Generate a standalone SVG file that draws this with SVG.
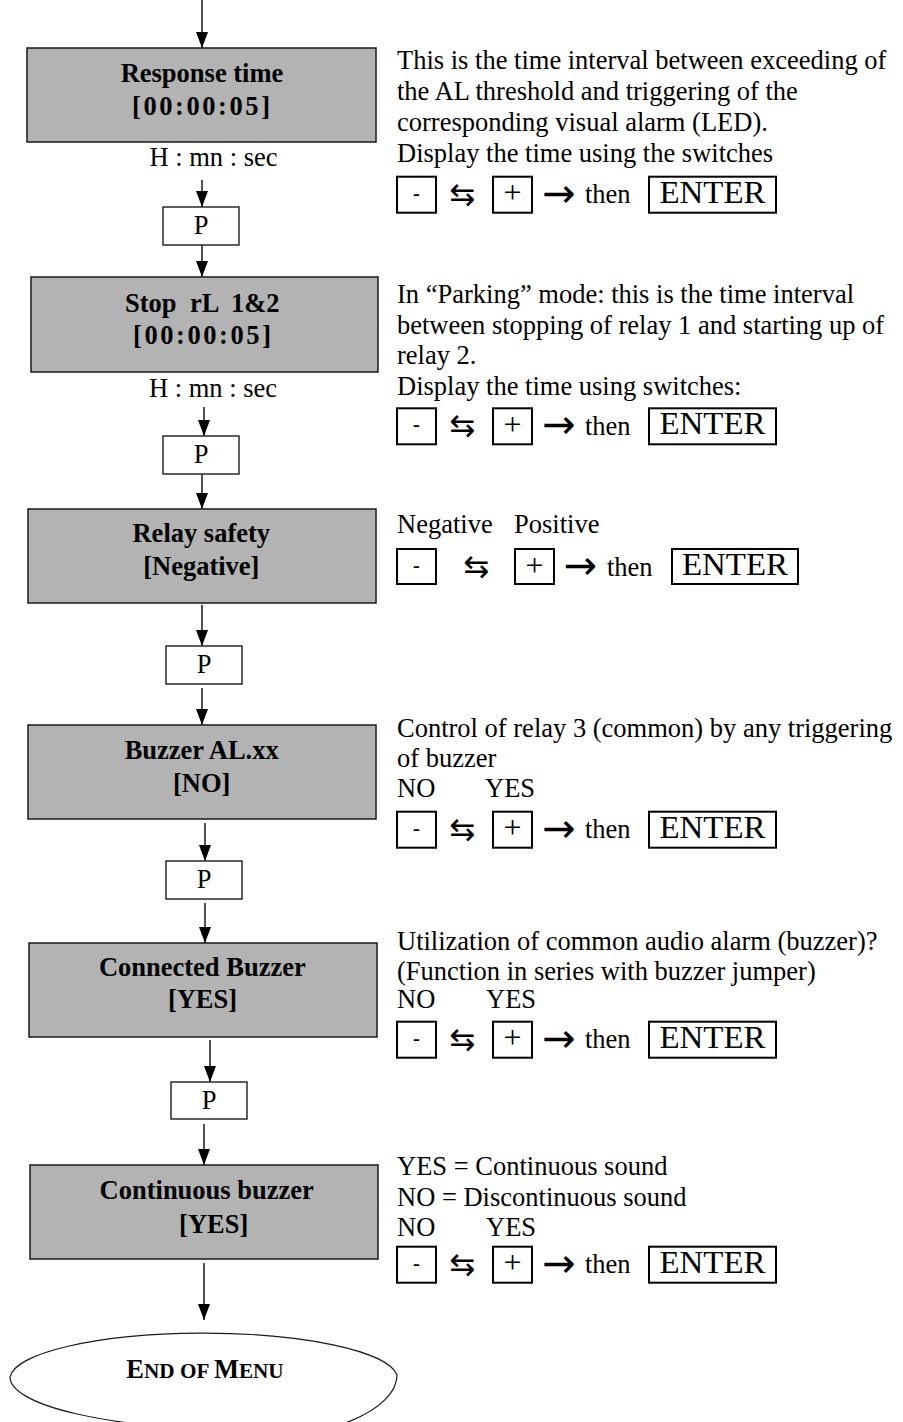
<svg xmlns="http://www.w3.org/2000/svg" xmlns:xlink="http://www.w3.org/1999/xlink" width="903" height="1422" viewBox="0 0 903 1422">
  <style>
    .t { font-family: "Liberation Serif", "Times New Roman", serif; font-size: 26.5px; fill: #000; }
    .b { font-weight: bold; }
    .mid { text-anchor: middle; }
    .menu { fill: #b3b3b3; stroke: #1a1a1a; stroke-width: 1.5; }
    .pbox { fill: #fff; stroke: #2a2a2a; stroke-width: 1.5; }
    .key { fill: #fff; stroke: #000; stroke-width: 2; }
    .conn line { stroke: #1a1a1a; stroke-width: 1.5; marker-end: url(#ah); }
    .sym { font-family: "DejaVu Sans", sans-serif; fill: #000; text-anchor: middle; }
    .minus { font-family: "Liberation Sans", Arial, sans-serif; font-size: 22px; text-anchor: middle; }
    .plus { font-family: "Liberation Serif", serif; font-size: 32px; text-anchor: middle; }
    .enter { font-family: "Liberation Serif", serif; font-size: 31px; text-anchor: middle; }
  </style>
  <defs>
    <marker id="ah" viewBox="0 0 16 12" refX="16" refY="6" markerWidth="16" markerHeight="12" markerUnits="userSpaceOnUse" orient="auto">
      <path d="M0,0 L16,6 L0,12 z" fill="#000"/>
    </marker>
    <!-- key sequence row: [-] ⇆ [+] → then [ENTER], origin at the top of the key boxes -->
    <g id="keyrow">
      <rect class="key" x="397" y="0" width="39" height="36"/>
      <text class="minus" x="416.5" y="24">-</text>
      <text class="sym" x="462.5" y="28" font-size="31">⇆</text>
      <rect class="key" x="493" y="0" width="39" height="36"/>
      <text class="plus" x="512.5" y="26.5">+</text>
      <text class="sym" x="559" y="30" font-size="40">→</text>
      <text class="t" x="585" y="26.5" font-size="28">then</text>
      <rect class="key" x="649" y="0" width="127" height="36"/>
      <text class="enter" x="712.5" y="26" textLength="106" lengthAdjust="spacingAndGlyphs">ENTER</text>
    </g>
  </defs>

  <rect width="903" height="1422" fill="#fff"/>

  <!-- connectors -->
  <g id="connectors" class="conn">
    <line x1="202" y1="0" x2="202" y2="48"/>
    <line x1="202" y1="180" x2="202" y2="207"/>
    <line x1="202" y1="245" x2="202" y2="277"/>
    <line x1="204" y1="407" x2="204" y2="436"/>
    <line x1="202" y1="474" x2="202" y2="509"/>
    <line x1="202" y1="605" x2="202" y2="646"/>
    <line x1="202" y1="688" x2="202" y2="725"/>
    <line x1="205" y1="823" x2="205" y2="861"/>
    <line x1="205" y1="903" x2="205" y2="943"/>
    <line x1="210" y1="1040" x2="210" y2="1082"/>
    <line x1="204" y1="1124" x2="204" y2="1165"/>
    <line x1="204" y1="1263" x2="204" y2="1320"/>
  </g>

  <!-- menu steps -->
  <g id="response-time">
    <rect class="menu" x="27" y="48" width="349" height="94"/>
    <text class="t b mid" x="202" y="82">Response time</text>
    <text class="t b mid" x="201" y="115" textLength="138" lengthAdjust="spacing">[00:00:05]</text>
    <text class="t mid" x="213.5" y="165.7">H : mn : sec</text>
  </g>
  <g id="p1">
    <rect class="pbox" x="163" y="207" width="76" height="38"/>
    <text class="t mid" x="201" y="234">P</text>
  </g>

  <g id="stop-rl">
    <rect class="menu" x="31" y="277" width="347" height="95"/>
    <text class="t b" y="311.5"><tspan x="125">Stop</tspan><tspan x="190">rL</tspan><tspan x="231">1&amp;2</tspan></text>
    <text class="t b mid" x="202" y="344" textLength="138" lengthAdjust="spacing">[00:00:05]</text>
    <text class="t mid" x="213" y="396.7">H : mn : sec</text>
  </g>
  <g id="p2">
    <rect class="pbox" x="163" y="436" width="76" height="38"/>
    <text class="t mid" x="201" y="463">P</text>
  </g>

  <g id="relay-safety">
    <rect class="menu" x="28" y="509" width="348" height="94"/>
    <text class="t b mid" x="201.3" y="542">Relay safety</text>
    <text class="t b mid" x="201.3" y="575">[Negative]</text>
  </g>
  <g id="p3">
    <rect class="pbox" x="166" y="646" width="76" height="38"/>
    <text class="t mid" x="204" y="673">P</text>
  </g>

  <g id="buzzer-al">
    <rect class="menu" x="28" y="725" width="348" height="94"/>
    <text class="t b mid" x="201.7" y="759">Buzzer AL.xx</text>
    <text class="t b mid" x="201.7" y="792">[NO]</text>
  </g>
  <g id="p4">
    <rect class="pbox" x="166" y="861" width="76" height="38"/>
    <text class="t mid" x="204" y="888">P</text>
  </g>

  <g id="connected-buzzer">
    <rect class="menu" x="29" y="943" width="348" height="94"/>
    <text class="t b mid" x="202.3" y="975.5">Connected Buzzer</text>
    <text class="t b mid" x="202.5" y="1008">[YES]</text>
  </g>
  <g id="p5">
    <rect class="pbox" x="171" y="1082" width="76" height="37"/>
    <text class="t mid" x="209" y="1109">P</text>
  </g>

  <g id="continuous-buzzer">
    <rect class="menu" x="30" y="1165" width="348" height="94"/>
    <text class="t b mid" x="206.7" y="1199">Continuous buzzer</text>
    <text class="t b mid" x="213.7" y="1233">[YES]</text>
  </g>

  <g id="end-of-menu">
    <path d="M10,1377 A194,46 0 0 1 397,1375 A162,65.6 0 0 1 235,1440.6 L235,1429 A225,52 0 0 1 10,1377 Z" fill="#fff" stroke="#1a1a1a" stroke-width="1.2"/>
    <text class="t b mid" x="205" y="1378">E<tspan font-size="21.2">ND OF </tspan>M<tspan font-size="21.2">ENU</tspan></text>
  </g>

  <!-- explanations beside each step -->
  <g id="note-response-time" class="t">
    <text x="397" y="69.3">This is the time interval between exceeding of</text>
    <text x="397" y="100">the AL threshold and triggering of the</text>
    <text x="397" y="130.7">corresponding visual alarm (LED).</text>
    <text x="397" y="161.5">Display the time using the switches</text>
    <use xlink:href="#keyrow" href="#keyrow" y="176.7"/>
  </g>

  <g id="note-stop-rl" class="t">
    <text x="397" y="303.3">In “Parking” mode: this is the time interval</text>
    <text x="397" y="334">between stopping of relay 1 and starting up of</text>
    <text x="397" y="364.3">relay 2.</text>
    <text x="397" y="395">Display the time using switches:</text>
    <use xlink:href="#keyrow" href="#keyrow" y="408.3"/>
  </g>

  <g id="note-relay-safety" class="t">
    <text x="397" y="532.7">Negative</text>
    <text x="514" y="532.7">Positive</text>
    <g transform="translate(0,549)">
      <rect class="key" x="397" y="0" width="39" height="35"/>
      <text class="minus" x="416.5" y="24">-</text>
      <text class="sym" x="476.5" y="28" font-size="31">⇆</text>
      <rect class="key" x="515" y="0" width="39" height="35"/>
      <text class="plus" x="534.5" y="26.5">+</text>
      <text class="sym" x="580.5" y="30" font-size="40">→</text>
      <text class="t" x="607" y="26.5" font-size="28">then</text>
      <rect class="key" x="672" y="0" width="126" height="35"/>
      <text class="enter" x="735" y="26" textLength="106" lengthAdjust="spacingAndGlyphs">ENTER</text>
    </g>
  </g>

  <g id="note-buzzer-al" class="t">
    <text x="397" y="737">Control of relay 3 (common) by any triggering</text>
    <text x="397" y="767">of buzzer</text>
    <text x="397" y="797">NO</text>
    <text x="485" y="797">YES</text>
    <use xlink:href="#keyrow" href="#keyrow" y="811.7"/>
  </g>

  <g id="note-connected-buzzer" class="t">
    <text x="397" y="949.5">Utilization of common audio alarm (buzzer)?</text>
    <text x="397" y="980">(Function in series with buzzer jumper)</text>
    <text x="397" y="1008">NO</text>
    <text x="486" y="1008">YES</text>
    <use xlink:href="#keyrow" href="#keyrow" y="1021.7"/>
  </g>

  <g id="note-continuous-buzzer" class="t">
    <text x="397" y="1175">YES = Continuous sound</text>
    <text x="397" y="1206">NO = Discontinuous sound</text>
    <text x="397" y="1236">NO</text>
    <text x="486" y="1236">YES</text>
    <use xlink:href="#keyrow" href="#keyrow" y="1246.7"/>
  </g>
</svg>
